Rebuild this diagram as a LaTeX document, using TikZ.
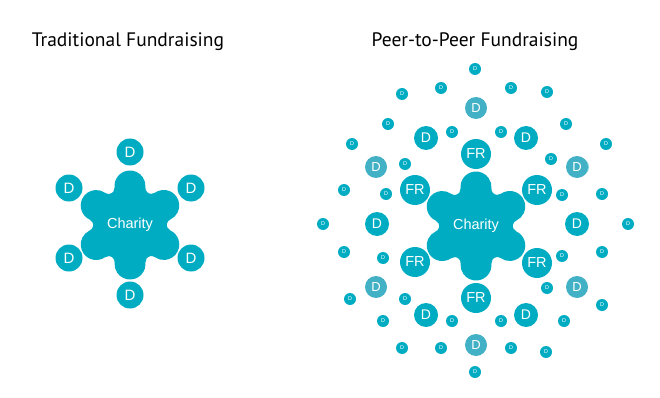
\documentclass[tikz,border=0pt]{standalone}
\usepackage{fontspec}
\setmainfont{Liberation Sans}
\newfontfamily\titlefont{PT Sans}
\usetikzlibrary{calc}
\definecolor{charteal}{RGB}{0,172,194}
\definecolor{fadeteal}{RGB}{66,176,197}

% six-lobed blob behind the Charity node
\newcommand{\charityblob}[1]{%
  \fill[charteal] ($(#1)+(30:39)+(-65.1:15.5)$)
    \foreach \a in {30,90,...,330} {
      arc[start angle=\a-95.1, end angle=\a+95.1, radius=15.5]
      arc[start angle=\a+275.1, end angle=\a+144.9, radius=6]
    } -- cycle;}

\begin{document}
\begin{tikzpicture}[x=1pt,y=-1pt,
  heading/.style={font=\titlefont\fontsize{19.5}{22}\selectfont, anchor=base},
  charity/.style={text=white, font=\fontsize{14.5}{16}\selectfont},
  donor/.style={circle, fill=charteal, text=white, inner sep=0pt,
    minimum size=27pt, font=\fontsize{15}{15}\selectfont},
  fundr/.style={donor, minimum size=30pt, font=\fontsize{14.5}{15}\selectfont},
  middonor/.style={donor, minimum size=24pt, font=\fontsize{14}{14}\selectfont},
  fadedonor/.style={donor, fill=fadeteal, minimum size=22pt, font=\fontsize{13}{13}\selectfont},
  tinydonor/.style={donor, minimum size=12pt, font=\fontsize{5.5}{6}\selectfont}]
\useasboundingbox (0,0) rectangle (660,398);

\node (tradtitle) at (128,47) [heading] {Traditional Fundraising};
\node (peertitle) at (475,47) [heading] {Peer-to-Peer Fundraising};

% traditional
\charityblob{130,225}
\node (chL) at (130,225) [charity] {Charity};
\node (dL1) at (130,152) [donor] {D};
\node (dL2) at (69,188)  [donor] {D};
\node (dL3) at (191,188) [donor] {D};
\node (dL4) at (69,258)  [donor] {D};
\node (dL5) at (191,258) [donor] {D};
\node (dL6) at (130,295) [donor] {D};

% peer-to-peer
\charityblob{476,226}
\node (chR) at (476,226) [charity] {Charity};
\node (fr1) at (476,154) [fundr] {FR};
\node (fr2) at (415,190) [fundr] {FR};
\node (fr3) at (537,190) [fundr] {FR};
\node (fr4) at (415,262) [fundr] {FR};
\node (fr5) at (537,263) [fundr] {FR};
\node (fr6) at (476,298) [fundr] {FR};

\node (m1) at (426,138) [middonor] {D};
\node (m2) at (526,138) [middonor] {D};
\node (m3) at (377,224) [middonor] {D};
\node (m4) at (577,224) [middonor] {D};
\node (m5) at (426,315) [middonor] {D};
\node (m6) at (526,315) [middonor] {D};

\fill[charteal, opacity=0.5] (580,167) circle (9);
\node (f1) at (476,108) [fadedonor] {D};
\node (f2) at (376,167) [fadedonor] {D};
\node (f3) at (577,167) [fadedonor] {D};
\node (f4) at (376,287) [fadedonor] {D};
\node (f5) at (577,287) [fadedonor] {D};
\node (f6) at (476,345) [fadedonor] {D};

\foreach \x/\y [count=\i] in {475/69, 441/88, 511/88, 402/94, 547/92,
    388/124, 566/124, 452/132, 501/132, 352/144, 606/144, 405/164,
    551/159, 344/190, 386/194, 562/195, 602/194, 323/224, 628/224,
    344/252, 383/258, 562/256, 602/252, 350/299, 405/299, 547/288,
    602/305, 383/321, 452/321, 501/321, 564/321, 402/348, 441/348,
    511/348, 546/352, 475/372}
  \node (s\i) at (\x,\y) [tinydonor] {D};
\end{tikzpicture}
\end{document}
